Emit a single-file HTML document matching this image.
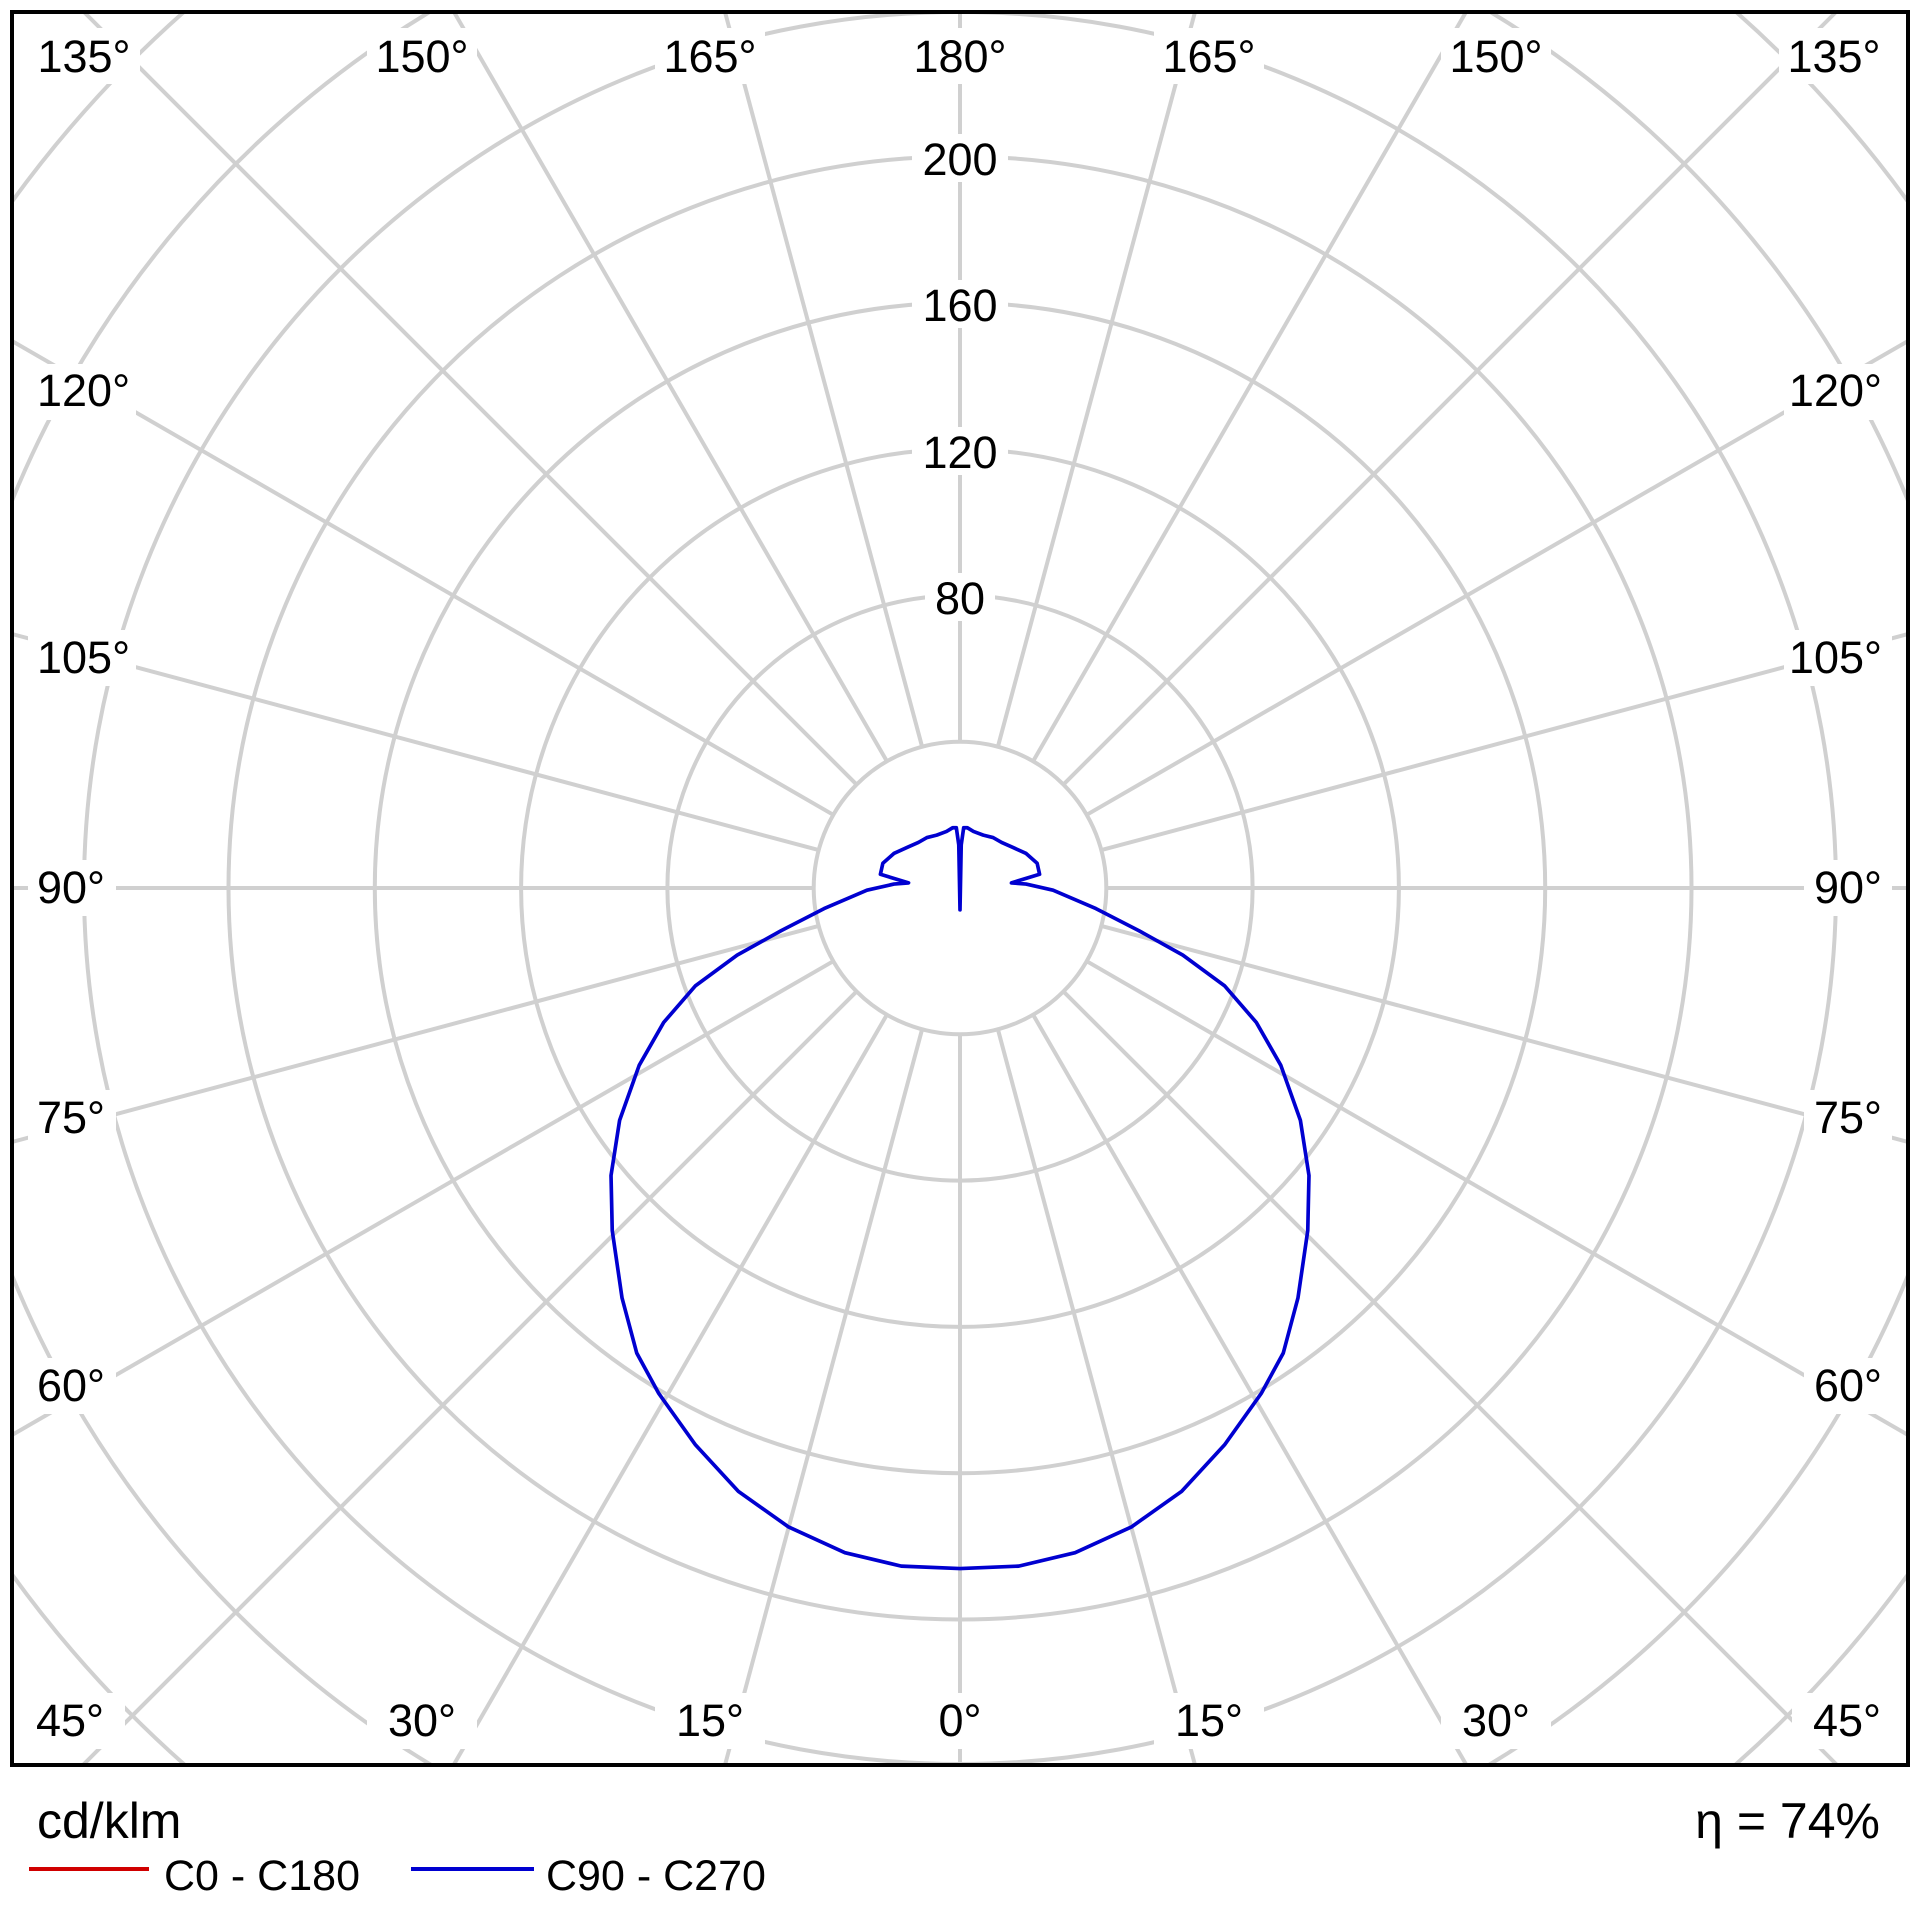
<!DOCTYPE html>
<html><head><meta charset="utf-8"><style>
html,body{margin:0;padding:0;background:#fff;width:1920px;height:1920px;overflow:hidden;position:relative}
svg{display:block;position:absolute;left:0;top:0}
text{font-family:"Liberation Sans",sans-serif;fill:#000}
</style></head><body>
<svg width="1920" height="1920" viewBox="0 0 1920 1920" xmlns="http://www.w3.org/2000/svg">
<rect width="1920" height="1920" fill="#fff"/>
<g stroke="#d0d0d0" stroke-width="4" fill="none">
<circle cx="960" cy="888" r="146.3"/><circle cx="960" cy="888" r="292.6"/><circle cx="960" cy="888" r="438.9"/><circle cx="960" cy="888" r="585.2"/><circle cx="960" cy="888" r="731.5"/><circle cx="960" cy="888" r="876"/>
<path d="M431.2,1765 A1024.1,1024.1 0 0 1 12,1275.4 M12,500.6 A1024.1,1024.1 0 0 1 429.5,12 M1490.5,12 A1024.1,1024.1 0 0 1 1908,500.6 M1908,1275.4 A1024.1,1024.1 0 0 1 1488.8,1765"/>
<path d="M184.9,1765 A1170.4,1170.4 0 0 1 12,1574.4 M12,201.6 A1170.4,1170.4 0 0 1 183.8,12 M1736.2,12 A1170.4,1170.4 0 0 1 1908,201.6 M1908,1574.4 A1170.4,1170.4 0 0 1 1735.1,1765"/>
<g>
<line x1="960" y1="1034.3" x2="960" y2="1765"/>
<line x1="922.1" y1="1029.3" x2="725" y2="1765"/><line x1="997.9" y1="1029.3" x2="1195" y2="1765"/>
<line x1="886.9" y1="1014.7" x2="453.6" y2="1765"/><line x1="1033.1" y1="1014.7" x2="1466.4" y2="1765"/>
<line x1="856.6" y1="991.4" x2="83" y2="1765"/><line x1="1063.4" y1="991.4" x2="1837" y2="1765"/>
<line x1="833.3" y1="961.2" x2="12" y2="1435"/><line x1="1086.7" y1="961.2" x2="1908" y2="1435"/>
<line x1="818.7" y1="925.9" x2="12" y2="1142"/><line x1="1101.3" y1="925.9" x2="1908" y2="1142"/>
<line x1="813.7" y1="888" x2="12" y2="888"/><line x1="1106.3" y1="888" x2="1908" y2="888"/>
<line x1="818.7" y1="850.1" x2="12" y2="634"/><line x1="1101.3" y1="850.1" x2="1908" y2="634"/>
<line x1="833.3" y1="814.8" x2="12" y2="341"/><line x1="1086.7" y1="814.8" x2="1908" y2="341"/>
<line x1="856.6" y1="784.6" x2="84" y2="12"/><line x1="1063.4" y1="784.6" x2="1836" y2="12"/>
<line x1="886.9" y1="761.3" x2="454" y2="12"/><line x1="1033.1" y1="761.3" x2="1466" y2="12"/>
<line x1="922.1" y1="746.7" x2="725" y2="12"/><line x1="997.9" y1="746.7" x2="1195" y2="12"/>
<line x1="960" y1="741.7" x2="960" y2="12"/>
</g>
</g>
<g fill="#fff">
<rect x="30" y="28" width="110" height="56"/><rect x="367" y="28" width="110" height="56"/><rect x="655" y="28" width="110" height="56"/><rect x="905" y="28" width="110" height="56"/><rect x="1154" y="28" width="110" height="56"/><rect x="1441" y="28" width="110" height="56"/><rect x="1779" y="28" width="110" height="56"/>
<rect x="15" y="1693" width="110" height="56"/><rect x="367" y="1693" width="110" height="56"/><rect x="655" y="1693" width="110" height="56"/><rect x="920" y="1693" width="80" height="56"/><rect x="1154" y="1693" width="110" height="56"/><rect x="1441" y="1693" width="110" height="56"/><rect x="1792" y="1693" width="110" height="56"/>
<rect x="28" y="364" width="108" height="56"/><rect x="28" y="630" width="108" height="56"/><rect x="28" y="860" width="88" height="56"/><rect x="28" y="1090" width="88" height="56"/><rect x="28" y="1358" width="88" height="56"/>
<rect x="1784" y="364" width="108" height="56"/><rect x="1784" y="630" width="108" height="56"/><rect x="1804" y="860" width="88" height="56"/><rect x="1804" y="1090" width="88" height="56"/><rect x="1804" y="1358" width="88" height="56"/>
<rect x="912" y="134" width="96" height="48"/><rect x="912" y="280" width="96" height="48"/><rect x="912" y="427" width="96" height="48"/><rect x="925" y="573" width="70" height="48"/>
</g>
<g font-size="45">
<g text-anchor="middle">
<text x="84" y="72">135°</text><text x="422" y="72">150°</text><text x="710" y="72">165°</text><text x="960" y="72">180°</text><text x="1209" y="72">165°</text><text x="1496" y="72">150°</text><text x="1834" y="72">135°</text>
<text x="70" y="1736">45°</text><text x="422" y="1736">30°</text><text x="710" y="1736">15°</text><text x="960" y="1736">0°</text><text x="1209" y="1736">15°</text><text x="1496" y="1736">30°</text><text x="1847" y="1736">45°</text>
<text x="960" y="175">200</text><text x="960" y="321">160</text><text x="960" y="468">120</text><text x="960" y="614">80</text>
</g>
<g text-anchor="start">
<text x="37" y="406">120°</text><text x="37" y="673">105°</text><text x="37" y="903">90°</text><text x="37" y="1133">75°</text><text x="37" y="1401">60°</text>
</g>
<g text-anchor="end">
<text x="1882" y="406">120°</text><text x="1882" y="673">105°</text><text x="1882" y="903">90°</text><text x="1882" y="1133">75°</text><text x="1882" y="1401">60°</text>
</g>
</g>
<rect x="12" y="12" width="1896" height="1753" fill="none" stroke="#000" stroke-width="4"/>
<g transform="scale(1.22449)" fill="none" stroke="#0000d0" stroke-width="3" stroke-linejoin="round">
<path d="M784,1281 L832,1279 L878,1268 L924,1247 L965,1218 L1000,1180 L1030,1138 L1048,1105 L1060,1060 L1068,1005 L1069,960 L1062,915 L1046,870 L1026,835 L1000,805 L966,780 L930,760 L895,742 L860,727 L838,722 L826,721 L849,714 L847,705 L838,697 L827,692 L818,688 L811,684 L803,682 L795,679 L790,676 L787,676 L785,690 L784,743 L783,690 L781,676 L778,676 L773,679 L765,682 L757,684 L750,688 L741,692 L730,697 L721,705 L719,714 L742,721 L730,722 L708,727 L673,742 L638,760 L602,780 L568,805 L542,835 L522,870 L506,915 L499,960 L500,1005 L508,1060 L520,1105 L538,1138 L568,1180 L603,1218 L644,1247 L690,1268 L736,1279 Z"/>
</g>
<text x="37" y="1838" font-size="50">cd/klm</text>
<text x="1880" y="1838" font-size="50" text-anchor="end">η = 74%</text>
<line x1="29" y1="1869" x2="149" y2="1869" stroke="#d00000" stroke-width="4"/>
<text x="164" y="1890" font-size="43">C0 - C180</text>
<line x1="411" y1="1869" x2="534" y2="1869" stroke="#0000d0" stroke-width="4"/>
<text x="546" y="1890" font-size="43">C90 - C270</text>
</svg>
</body></html>
